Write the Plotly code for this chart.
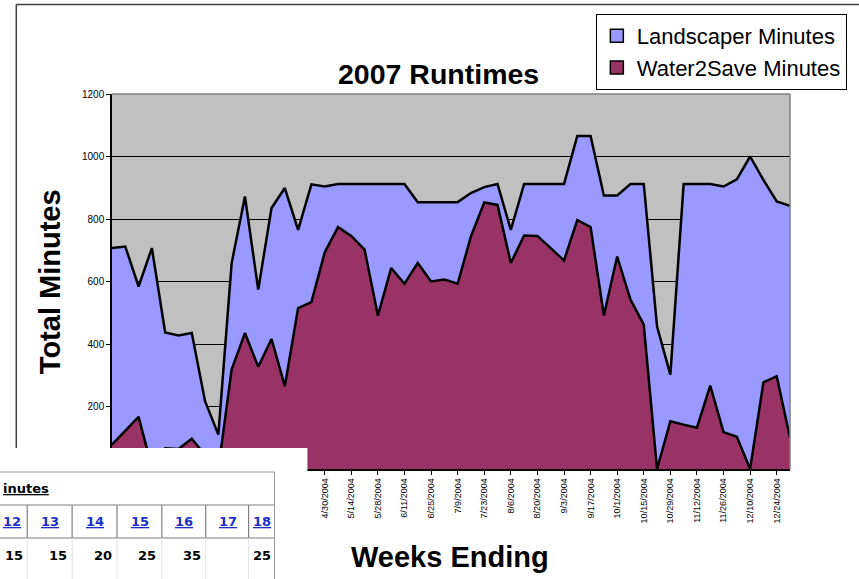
import plotly.graph_objects as go

# ---------------- data ----------------
weeks = ["1/9/2004", "1/16/2004", "1/23/2004", "1/30/2004", "2/6/2004", "2/13/2004",
         "2/20/2004", "2/27/2004", "3/5/2004", "3/12/2004", "3/19/2004", "3/26/2004",
         "4/2/2004", "4/9/2004", "4/16/2004", "4/23/2004", "4/30/2004", "5/7/2004",
         "5/14/2004", "5/21/2004", "5/28/2004", "6/4/2004", "6/11/2004", "6/18/2004",
         "6/25/2004", "7/2/2004", "7/9/2004", "7/16/2004", "7/23/2004", "7/30/2004",
         "8/6/2004", "8/13/2004", "8/20/2004", "8/27/2004", "9/3/2004", "9/10/2004",
         "9/17/2004", "9/24/2004", "10/1/2004", "10/8/2004", "10/15/2004", "10/22/2004",
         "10/29/2004", "11/5/2004", "11/12/2004", "11/19/2004", "11/26/2004", "12/3/2004",
         "12/10/2004", "12/17/2004", "12/24/2004", "12/31/2004"]

landscaper = [707, 712, 584, 707, 437, 427, 435, 217, 110, 659, 872, 574, 835, 899,
              765, 911, 904, 912, 912, 912, 912, 912, 912, 854, 854, 854, 854, 883,
              902, 912, 765, 912, 912, 912, 912, 1066, 1066, 875, 875, 912, 912, 456,
              302, 912, 912, 912, 904, 927, 1000, 925, 856, 842]

water2save = [78, 121, 167, 5, 66, 64, 97, 45, 0, 318, 435, 327, 416, 265, 515, 534,
              693, 774, 746, 702, 491, 643, 593, 659, 600, 606, 593, 744, 853, 845,
              659, 747, 746, 707, 667, 797, 774, 491, 680, 542, 462, 0, 153, 142, 132,
              267, 118, 103, 0, 277, 297, 100]

tick_labels = ["1/9/2004", "1/23/2004", "2/6/2004", "2/20/2004", "3/5/2004", "3/19/2004",
               "4/2/2004", "4/16/2004", "4/30/2004", "5/14/2004", "5/28/2004", "6/11/2004",
               "6/25/2004", "7/9/2004", "7/23/2004", "8/6/2004", "8/20/2004", "9/3/2004",
               "9/17/2004", "10/1/2004", "10/15/2004", "10/29/2004", "11/12/2004",
               "11/26/2004", "12/10/2004", "12/24/2004"]

series_names = ["Landscaper Minutes", "Water2Save Minutes"]
series_colors = ["#9999FF", "#993366"]

table_header = "inutes"
table_cols = ["12", "13", "14", "15", "16", "17", "18"]
table_vals = ["15", "15", "20", "25", "35", "", "25"]

# ---------------- layout helpers ----------------
W, H = 859, 579
L, R, T, B = 112, 792, 94, 469


def px(x):
    return (x - L) / (R - L)


def py(y):
    return (B - y) / (B - T)


FONT = "Liberation Sans, Arial, sans-serif"
TFONT = "DejaVu Sans, Verdana, sans-serif"

fig = go.Figure()

for name, vals, col in zip(series_names, [landscaper, water2save], series_colors):
    fig.add_trace(go.Scatter(x=weeks, y=vals, mode="lines", fill="tozeroy",
                             fillcolor=col, line=dict(color="black", width=2.5),
                             name=name, showlegend=False, hoverinfo="x+y+name"))

for name, col in zip(series_names, series_colors):
    fig.add_trace(go.Scatter(x=[None], y=[None], mode="markers", name=name,
                             marker=dict(symbol="square", size=13, color=col,
                                         line=dict(color="black", width=1.5))))

shapes = []
# plot area border (top / right)
shapes.append(dict(type="line", xref="paper", yref="paper", x0=0, x1=1, y0=1, y1=1,
                   line=dict(color="#808080", width=1.5), layer="above"))
shapes.append(dict(type="line", xref="paper", yref="paper", x0=1, x1=1, y0=0, y1=1,
                   line=dict(color="#808080", width=1.5), layer="above"))
# chart frame
shapes.append(dict(type="line", xref="paper", yref="paper", x0=px(16), x1=px(880),
                   y0=py(4.5), y1=py(4.5), line=dict(color="#404040", width=1.5),
                   layer="above"))
shapes.append(dict(type="line", xref="paper", yref="paper", x0=px(16), x1=px(16),
                   y0=py(4.5), y1=py(448), line=dict(color="#404040", width=1.5),
                   layer="above"))
# white overlay (pasted table fragment)
shapes.append(dict(type="rect", xref="paper", yref="paper", x0=px(-10), x1=px(308),
                   y0=py(448), y1=py(600), fillcolor="white", line=dict(width=0),
                   layer="above"))
# table lines
tl = dict(color="#9a9a9a", width=1)
shapes.append(dict(type="line", xref="paper", yref="paper", x0=px(-5), x1=px(275),
                   y0=py(472), y1=py(472), line=tl, layer="above"))
shapes.append(dict(type="line", xref="paper", yref="paper", x0=px(275), x1=px(275),
                   y0=py(472), y1=py(600), line=tl, layer="above"))
shapes.append(dict(type="line", xref="paper", yref="paper", x0=px(-5), x1=px(275),
                   y0=py(505), y1=py(505), line=dict(color="#808080", width=1.2),
                   layer="above"))
shapes.append(dict(type="line", xref="paper", yref="paper", x0=px(-5), x1=px(275),
                   y0=py(538), y1=py(538), line=dict(color="#808080", width=1.2),
                   layer="above"))
for cx in [27, 72, 117, 162, 206, 249]:
    shapes.append(dict(type="line", xref="paper", yref="paper", x0=px(cx), x1=px(cx),
                       y0=py(505), y1=py(538), line=dict(color="#808080", width=1.2),
                       layer="above"))
    shapes.append(dict(type="line", xref="paper", yref="paper", x0=px(cx), x1=px(cx),
                       y0=py(538), y1=py(600), line=dict(color="#e2e2e2", width=1),
                       layer="above"))

annotations = []
annotations.append(dict(text="<b>2007 Runtimes</b>", xref="paper", yref="paper",
                        x=px(439), y=py(74), xanchor="center", yanchor="middle",
                        showarrow=False, font=dict(family=FONT, size=28.5, color="black")))
annotations.append(dict(text="<b>Weeks Ending</b>", xref="paper", yref="paper",
                        x=px(451), y=py(557), xanchor="center", yanchor="middle",
                        showarrow=False, font=dict(family=FONT, size=29, color="black")))
annotations.append(dict(text="<b>Total Minutes</b>", xref="paper", yref="paper",
                        x=px(50), y=py(282), xanchor="center", yanchor="middle",
                        textangle=-90, showarrow=False,
                        font=dict(family=FONT, size=29, color="black")))
# table text
annotations.append(dict(text="<b>" + table_header + "</b>", xref="paper", yref="paper",
                        x=px(0.5), y=py(489), xanchor="left", yanchor="middle",
                        showarrow=False,
                        font=dict(family=TFONT, size=13, color="black",
                                  lineposition="under")))
col_pos = [1, 50, 95, 140, 184, 228, 262]
col_anchor = ["left", "center", "center", "center", "center", "center", "center"]
val_rights = [25, 69, 114, 158, 203, 247, 273]
for c, cx, ca, vr, v in zip(table_cols, col_pos, col_anchor, val_rights, table_vals):
    annotations.append(dict(text="<b>" + c + "</b>", xref="paper", yref="paper",
                            x=px(cx), y=py(521), xanchor=ca, yanchor="middle",
                            showarrow=False,
                            font=dict(family=TFONT, size=13, color="#1a2fc8",
                                      lineposition="under")))
    if v:
        annotations.append(dict(text="<b>" + v + "</b>", xref="paper", yref="paper",
                                x=px(vr), y=py(555), xanchor="right", yanchor="middle",
                                showarrow=False,
                                font=dict(family=TFONT, size=13, color="black")))

fig.update_layout(
    width=W, height=H, autosize=False,
    margin=dict(l=L, r=W - R, t=T, b=H - B, pad=0),
    paper_bgcolor="white", plot_bgcolor="#C0C0C0",
    font=dict(family=FONT, color="black"),
    showlegend=True,
    legend=dict(x=px(849), y=py(14), xanchor="right", yanchor="top",
                bgcolor="white", bordercolor="black", borderwidth=1,
                font=dict(family=FONT, size=22, color="black"),
                itemsizing="trace", tracegroupgap=0),
    xaxis=dict(type="category", range=[0, len(weeks) - 1], tickmode="array",
               tickvals=tick_labels, ticktext=tick_labels, tickangle=-90,
               ticks="outside", ticklen=4, tickcolor="black", showline=True,
               linecolor="black", linewidth=1.5, showgrid=False, zeroline=False,
               tickfont=dict(family=FONT, size=9, color="black")),
    yaxis=dict(range=[0, 1200], tick0=0, dtick=200, ticks="outside", ticklen=4,
               tickcolor="black", showline=True, linecolor="black", linewidth=1.5,
               showgrid=True, gridcolor="black", gridwidth=1, zeroline=False,
               tickfont=dict(family=FONT, size=10, color="black")),
    shapes=shapes, annotations=annotations,
)

fig.write_html("out.html",
               config={"displayModeBar": False},
               post_script="document.body.style.margin='0';"
                           "document.body.style.overflow='hidden';")
